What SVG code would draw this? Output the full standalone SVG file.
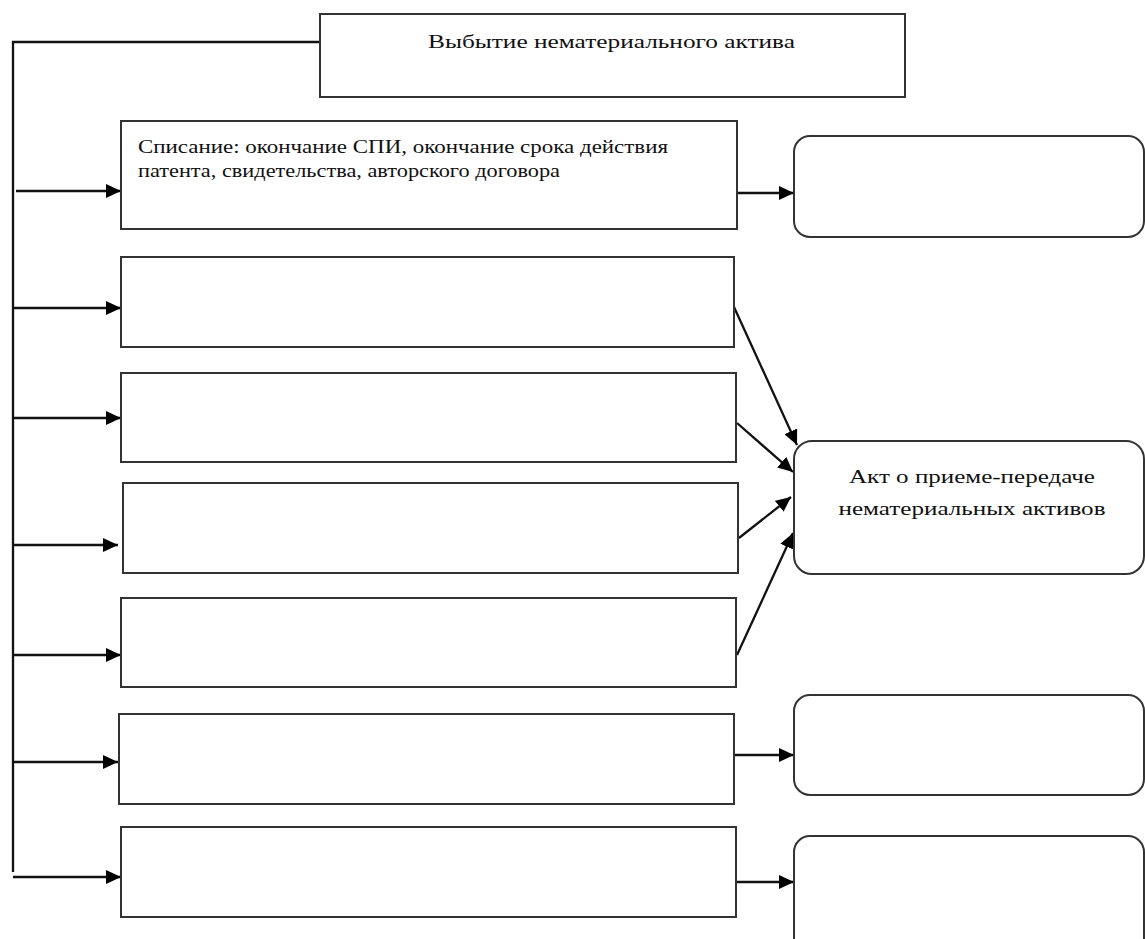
<svg xmlns="http://www.w3.org/2000/svg" width="1145" height="939" viewBox="0 0 1145 939">
<defs>
<style>
.box{fill:#fff;stroke:#333;stroke-width:2}
.ln{fill:none;stroke:#111;stroke-width:2.3}
.t{font-family:"Liberation Serif","Times New Roman",serif;font-size:18px;fill:#111}
</style>
<marker id="ah" viewBox="0 0 15 14" refX="15" refY="7" markerWidth="15" markerHeight="14" markerUnits="userSpaceOnUse" orient="auto">
<path d="M0,0 L15,7 L0,14 Z" fill="#000"/>
</marker>
</defs>
<rect width="1145" height="939" fill="#fff"/>
<g id="connectors">
<polyline class="ln" points="320,42 13,42 13,872"/>
<line class="ln" x1="16" y1="191" x2="121" y2="191" marker-end="url(#ah)"/>
<line class="ln" x1="13" y1="308" x2="121" y2="308" marker-end="url(#ah)"/>
<line class="ln" x1="13" y1="418" x2="121" y2="418" marker-end="url(#ah)"/>
<line class="ln" x1="13" y1="545" x2="118" y2="545" marker-end="url(#ah)"/>
<line class="ln" x1="13" y1="655" x2="121" y2="655" marker-end="url(#ah)"/>
<line class="ln" x1="13" y1="762" x2="118" y2="762" marker-end="url(#ah)"/>
<line class="ln" x1="13" y1="877" x2="121" y2="877" marker-end="url(#ah)"/>
<line class="ln" x1="737" y1="193" x2="794" y2="193" marker-end="url(#ah)"/>
<line class="ln" x1="734" y1="307" x2="797" y2="445" marker-end="url(#ah)"/>
<line class="ln" x1="737" y1="423" x2="793" y2="472" marker-end="url(#ah)"/>
<line class="ln" x1="739" y1="538" x2="791" y2="497" marker-end="url(#ah)"/>
<line class="ln" x1="737" y1="655" x2="793" y2="533" marker-end="url(#ah)"/>
<line class="ln" x1="734" y1="755" x2="794" y2="755" marker-end="url(#ah)"/>
<line class="ln" x1="736" y1="882" x2="794" y2="882" marker-end="url(#ah)"/>
</g>
<g id="top">
<rect class="box" x="320" y="14" width="585" height="83"/>
<text class="t" x="428" y="48" textLength="367" lengthAdjust="spacingAndGlyphs">Выбытие нематериального актива</text>
</g>
<g id="b1">
<rect class="box" x="121" y="121" width="616" height="108"/>
<text class="t" x="138" y="153" textLength="530" lengthAdjust="spacingAndGlyphs">Списание: окончание СПИ, окончание срока действия</text>
<text class="t" x="138" y="177" textLength="422" lengthAdjust="spacingAndGlyphs">патента, свидетельства, авторского договора</text>
</g>
<g id="b2"><rect class="box" x="121" y="257" width="613" height="90"/></g>
<g id="b3"><rect class="box" x="121" y="373" width="615" height="89"/></g>
<g id="b4"><rect class="box" x="123" y="483" width="615" height="90"/></g>
<g id="b5"><rect class="box" x="121" y="598" width="615" height="89"/></g>
<g id="b6"><rect class="box" x="119" y="714" width="615" height="90"/></g>
<g id="b7"><rect class="box" x="121" y="827" width="615" height="90"/></g>
<g id="r1"><rect class="box" x="794" y="136" width="350" height="101" rx="16"/></g>
<g id="r2">
<rect class="box" x="794" y="441" width="350" height="133" rx="18"/>
<text class="t" x="972" y="483" text-anchor="middle" textLength="246" lengthAdjust="spacingAndGlyphs">Акт о приеме-передаче</text>
<text class="t" x="972" y="515" text-anchor="middle" textLength="267" lengthAdjust="spacingAndGlyphs">нематериальных активов</text>
</g>
<g id="r3"><rect class="box" x="794" y="695" width="350" height="100" rx="16"/></g>
<g id="r4"><rect class="box" x="794" y="836" width="350" height="130" rx="16"/></g>
</svg>
